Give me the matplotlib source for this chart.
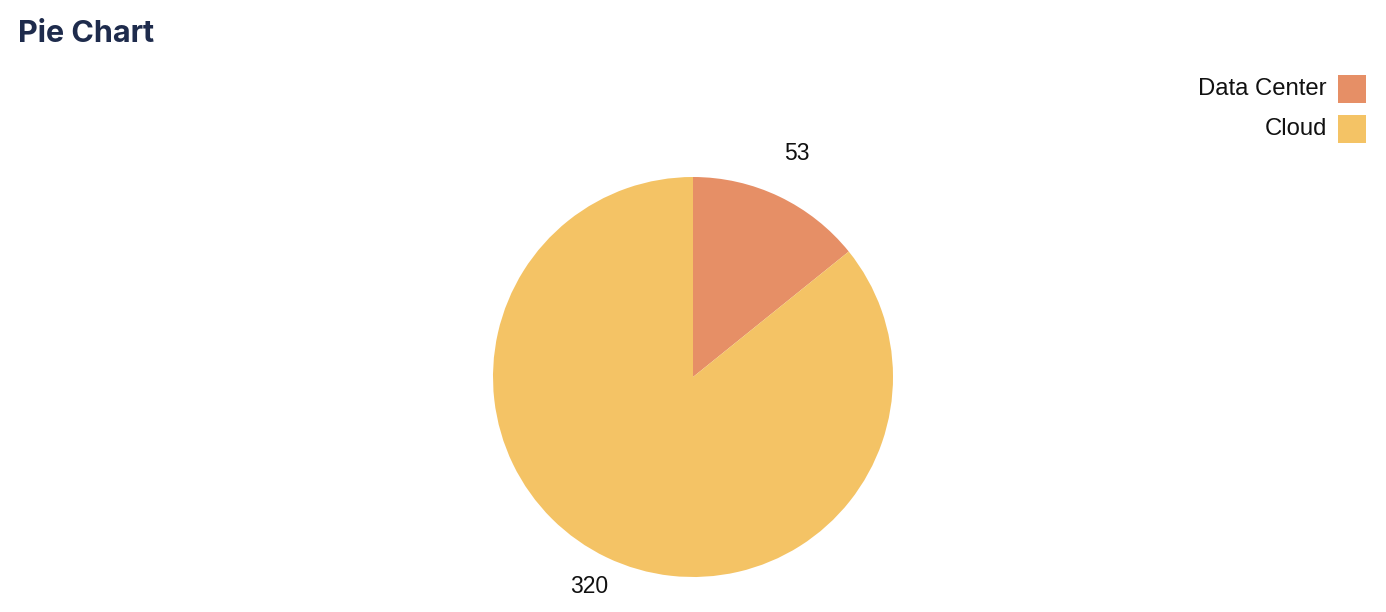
import matplotlib.pyplot as plt
from matplotlib.patches import Rectangle
from matplotlib.transforms import offset_copy

labels = ['Data Center', 'Cloud']
values = [53, 320]
colors = ['#E68F66', '#F4C365']

W, H = 1386, 612
fig = plt.figure(figsize=(W / 100, H / 100), dpi=100)

cx, cy, r = 693, 377, 200
ax = fig.add_axes([(cx - r) / W, (H - cy - r) / H, 2 * r / W, 2 * r / H])
wedges, texts = ax.pie(values, labels=[str(v) for v in values], colors=colors,
                       startangle=90, counterclock=False, labeldistance=1.2,
                       textprops={'fontsize': 16.5, 'color': '#111111',
                                  'family': 'Liberation Sans'})
for t in texts:
    t.set_ha('center')
    t.set_va('center')
    t.set_transform(offset_copy(t.get_transform(), fig, y=7, units='dots'))
ax.set_xlim(-1, 1)
ax.set_ylim(-1, 1)
ax.set_aspect('equal')
ax.axis('off')

fig.text(18 / W, 1 - 34 / H, 'Pie Chart', fontsize=22, fontweight='bold',
         family='Inter', color='#1E2B4C', ha='left', va='center')

# legend: label text on the left, colour square on the right
for i, (lab, c) in enumerate(zip(labels, colors)):
    top = 75 + i * 40
    fig.patches.append(Rectangle((1338 / W, 1 - (top + 28) / H), 28 / W, 28 / H,
                                 facecolor=c, edgecolor='none',
                                 transform=fig.transFigure))
    fig.text(1327 / W, 1 - (top + 14) / H, lab, fontsize=17.2, family='Liberation Sans',
             color='#111111', ha='right', va='center')

fig.savefig('out.png', dpi=100)
